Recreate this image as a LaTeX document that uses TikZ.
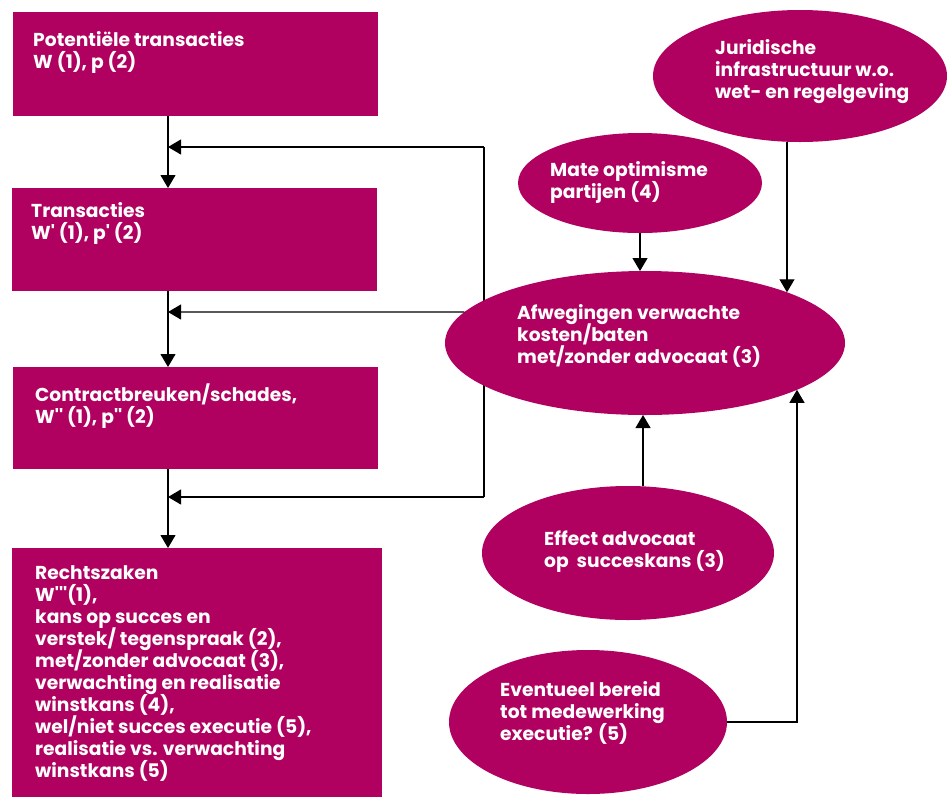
\documentclass[tikz,border=0pt]{standalone}
\usepackage{fontspec}
\setmainfont{Poppins}
\usetikzlibrary{arrows.meta,shapes.geometric,intersections,calc}
\definecolor{plum}{RGB}{176,0,96}
\newcommand{\mlines}[1]{\vtop{\let\\\cr\lineskiplimit=-\maxdimen\halign{##\hfil\cr#1\crcr}}}
\newcommand{\sq}{\textquotesingle}
\begin{document}
\begin{tikzpicture}[x=1pt,y=-1pt,
  box/.style={fill=plum,draw=none,anchor=north west,inner sep=0},
  ell/.style={ellipse,fill=plum,draw=none,inner sep=0},
  txt/.style={anchor=base west,text=white,font=\fontsize{18.7}{22}\selectfont\bfseries,inner sep=0},
  conn/.style={draw=black,line width=1.1pt},
  arr/.style={conn,-{Triangle[width=15pt,length=13pt]}}]
\useasboundingbox (0,0) rectangle (948,796);
% boxes
\node[box,minimum width=365,minimum height=104] (b1) at (13,12) {};
\node[box,minimum width=365,minimum height=103] (b2) at (12,188) {};
\node[box,minimum width=365,minimum height=102] (b3) at (13,367) {};
\node[box,minimum width=370,minimum height=250] (b4) at (12,548) {};
% junction coordinates
\coordinate (j1) at (168,147);
\coordinate (j2) at (168,312);
\coordinate (j3) at (168,497);
\coordinate (c1) at (484,147);
\coordinate (c3) at (484,497);
% main chain
\draw[arr] (b1.south -| j1) -- (b2.north -| j1);
\draw[arr] (b2.south -| j2) -- (b3.north -| j2);
\draw[arr] (b3.south -| j3) -- (b4.north -| j3);
% feedback lines (behind the ellipse)
\draw[conn] (c1) -- (c3);
\draw[arr] (c1) -- (j1);
\draw[arr] (c3) -- (j3);
% ellipses
\node[ell,minimum width=400,minimum height=144,name path=afwp] (afw) at (645,343) {};
\node[ell,minimum width=294,minimum height=132] (jur) at (800,76) {};
\node[ell,minimum width=244,minimum height=100] (mate) at (640,183) {};
\node[ell,minimum width=292,minimum height=134] (eff) at (628,553) {};
\node[ell,minimum width=278,minimum height=144] (eve) at (588,722) {};
% arrow out of afw to the left
\path[name path=lh] (400,312) -- (645,312);
\path[name intersections={of=afwp and lh,by=ph}];
\coordinate (phc) at (ph);
\draw[arr] (phc) -- (j2);
% arrows into afw
\path[name path=lj] (787,150) -- (787,343);
\path[name intersections={of=afwp and lj,by=pj}];
\coordinate (pjc) at (pj);
\draw[arr] (jur.south -| pjc) -- (pjc);
\path[name path=lm] (640,230) -- (640,343);
\path[name intersections={of=afwp and lm,by=pm}];
\coordinate (pmc) at (pm);
\draw[arr] (mate.south -| pmc) -- (pmc);
\path[name path=le] (643,480) -- (643,343);
\path[name intersections={of=afwp and le,by=pe}];
\coordinate (pec) at (pe);
\draw[arr] (eff.north -| pec) -- (pec);
\path[name path=lv] (797,500) -- (797,343);
\path[name intersections={of=afwp and lv,by=pv}];
\coordinate (pvc) at (pv);
\draw[arr] (eve.east) -| (pvc);
% texts
\node[txt] (t1) at (33,46) {\mlines{Potentiële transacties\\W (1), p (2)}};
\node[txt] (t2) at (31,217) {\mlines{Transacties\\W\sq{} (1), p\sq{} (2)}};
\node[txt] (t3) at (35,401) {\mlines{Contractbreuken/schades,\\W\sq\sq{} (1), p\sq\sq{} (2)}};
\node[txt] (t4) at (35,579) {\mlines{Rechtszaken\\W\sq\sq\sq(1),\\kans op succes en\\verstek/ tegenspraak (2),\\met/zonder advocaat (3),\\verwachting en realisatie\\winstkans (4),\\wel/niet succes executie (5),\\realisatie vs. verwachting\\winstkans (5)}};
\node[txt] (tj) at (715,54) {\mlines{Juridische\\infrastructuur w.o.\\wet- en regelgeving}};
\node[txt] (tm) at (550,176) {\mlines{Mate optimisme\\partijen (4)}};
\node[txt] (ta) at (517,319) {\mlines{Afwegingen verwachte\\kosten/baten\\met/zonder advocaat (3)}};
\node[txt] (te) at (544,545) {\mlines{Effect advocaat\\op~ succeskans (3)}};
\node[txt] (tv) at (500,696) {\mlines{Eventueel bereid\\tot medewerking\\executie? (5)}};
\end{tikzpicture}
\end{document}
